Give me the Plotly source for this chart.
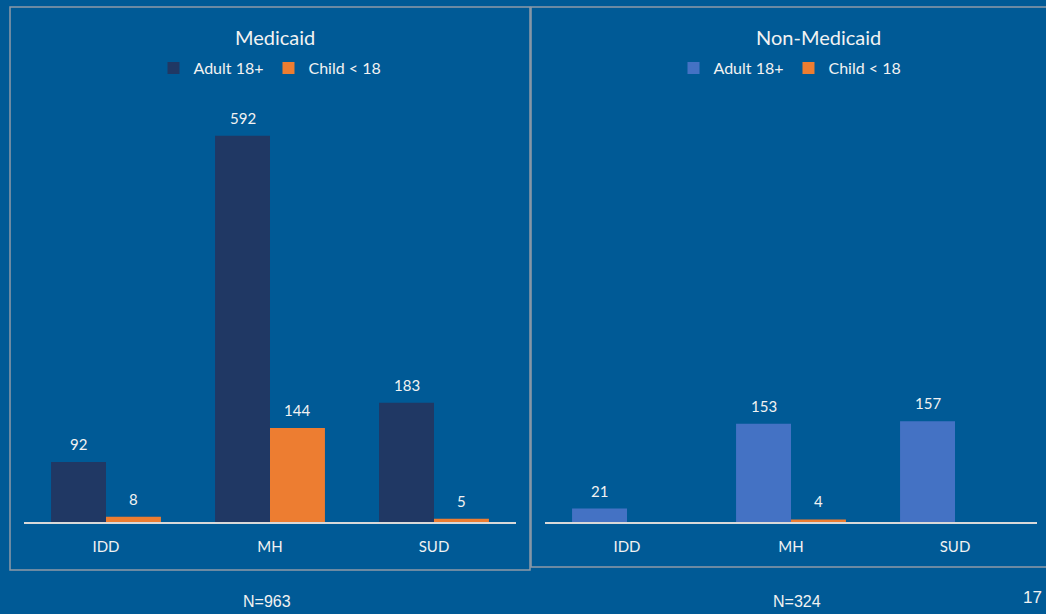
import plotly.graph_objects as go

W, H = 1046, 614

categories = ["IDD", "MH", "SUD"]
medicaid_adult = [92, 592, 183]
medicaid_child = [8, 144, 5]
nonmedicaid_adult = [21, 153, 157]
nonmedicaid_child = [None, 4, None]
medicaid_n = "N=963"
nonmedicaid_n = "N=324"
page_number = "17"

BG = "#005A96"
NAVY = "#203864"
ORANGE = "#ED7D31"
BLUE = "#4472C4"
TXT = "#F2F2F2"
FONT = "Lato, 'Open Sans', sans-serif"


def px_x(v):
    return v / W


def px_y(v):
    return 1 - v / H


fig = go.Figure()

series = [
    ("x", "y", "legend", "Adult 18+", medicaid_adult, NAVY, -1),
    ("x", "y", "legend", "Child < 18", medicaid_child, ORANGE, 1),
    ("x2", "y2", "legend2", "Adult 18+", nonmedicaid_adult, BLUE, -1),
    ("x2", "y2", "legend2", "Child < 18", nonmedicaid_child, ORANGE, 1),
]

BARGAP = 0.33
half = (1 - BARGAP) / 4  # offset of each bar's centre from its category centre

for xa, ya, lg, name, vals, color, side in series:
    fig.add_trace(go.Bar(
        x=categories, y=vals, name=name, xaxis=xa, yaxis=ya, legend=lg,
        marker=dict(color=color, line=dict(width=0)),
        hoverinfo="x+y",
    ))
    # value labels above each bar
    for i, v in enumerate(vals):
        if v is None:
            continue
        fig.add_annotation(
            x=i + side * half, y=v, xref=xa, yref=ya, text=str(v),
            showarrow=False, yanchor="bottom", yshift=7,
            font=dict(family=FONT, size=15, color=TXT),
        )

axis_common = dict(
    showgrid=False, zeroline=False, showline=True, linecolor="#D9D9D9",
    linewidth=1.5, ticks="", tickfont=dict(family=FONT, size=15, color=TXT),
    ticklabelstandoff=10, fixedrange=True,
)
yaxis_common = dict(showgrid=False, zeroline=False, showline=False,
                    showticklabels=False, fixedrange=True)

legend_common = dict(orientation="h", xanchor="center", y=px_y(68),
                     yanchor="middle", bgcolor="rgba(0,0,0,0)",
                     font=dict(family=FONT, size=16, color=TXT),
                     itemwidth=30, itemclick=False, itemdoubleclick=False)

fig.update_layout(
    width=W, height=H,
    margin=dict(l=0, r=0, t=0, b=0),
    paper_bgcolor=BG, plot_bgcolor=BG,
    barmode="group", bargap=BARGAP, bargroupgap=0,
    showlegend=True,
    font=dict(family=FONT, color=TXT),
    xaxis=dict(domain=[px_x(24), px_x(516)], anchor="y", **axis_common),
    yaxis=dict(domain=[px_y(522), px_y(100)], range=[0, 647], anchor="x",
               **yaxis_common),
    xaxis2=dict(domain=[px_x(545), px_x(1037)], anchor="y2", **axis_common),
    yaxis2=dict(domain=[px_y(522), px_y(100)], range=[0, 657], anchor="x2",
                **yaxis_common),
    legend=dict(x=px_x(270), **legend_common),
    legend2=dict(x=px_x(790), **legend_common),
)

# panel frames
fig.add_shape(type="rect", xref="paper", yref="paper",
              x0=px_x(10), x1=px_x(530), y0=px_y(570), y1=px_y(7),
              line=dict(color="#8E9BA8", width=1.5), layer="below")
fig.add_shape(type="rect", xref="paper", yref="paper",
              x0=px_x(531), x1=px_x(1060), y0=px_y(567), y1=px_y(7),
              line=dict(color="#8E9BA8", width=1.5), layer="below")

# panel titles
for label, cx in [("Medicaid", 275), ("Non-Medicaid", 818)]:
    fig.add_annotation(x=px_x(cx), y=px_y(37), xref="paper", yref="paper",
                       text=label, showarrow=False, xanchor="center",
                       yanchor="middle",
                       font=dict(family=FONT, size=20, color=TXT))

# sample sizes under each panel
for label, cx in [(medicaid_n, 267), (nonmedicaid_n, 797)]:
    fig.add_annotation(x=px_x(cx), y=px_y(601), xref="paper", yref="paper",
                       text=label, showarrow=False, xanchor="center",
                       yanchor="middle",
                       font=dict(family="Liberation Sans, Arial", size=16,
                                 color=TXT))

fig.add_annotation(x=px_x(1044), y=px_y(597), xref="paper", yref="paper",
                   text=page_number, showarrow=False, xanchor="right",
                   yanchor="middle",
                   font=dict(family="Liberation Sans, Arial", size=17,
                             color=TXT))

fig.write_html("out.html", config={"displayModeBar": False})
